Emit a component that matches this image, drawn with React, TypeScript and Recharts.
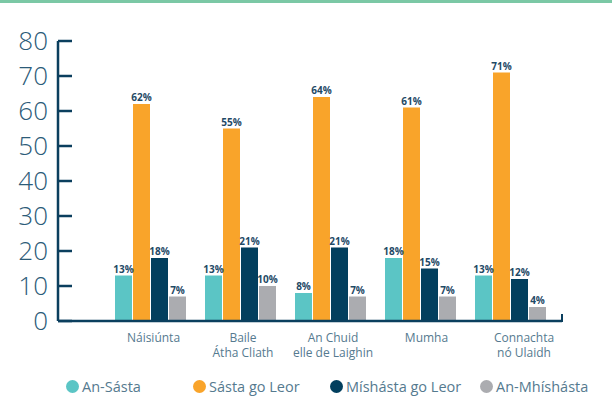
import React from 'react';
import * as R from 'recharts';
const { BarChart, Bar, XAxis, YAxis, Legend, LabelList } = R as any;

const categories = ['Náisiúnta', 'Baile\nÁtha Cliath', 'An Chuid\nelle de Laighin', 'Mumha', 'Connachta\nnó Ulaidh'];
const seriesNames = ['An-Sásta', 'Sásta go Leor', 'Míshásta go Leor', 'An-Mhíshásta'];
const anSasta = [13, 13, 8, 18, 13];
const sastaGoLeor = [62, 55, 64, 61, 71];
const mishastaGoLeor = [18, 21, 21, 15, 12];
const anMhishasta = [7, 10, 7, 7, 4];
const yTicks = [0, 10, 20, 30, 40, 50, 60, 70, 80];

const data = categories.map((name, i) => ({
  name,
  anSasta: anSasta[i],
  sastaGoLeor: sastaGoLeor[i],
  mishastaGoLeor: mishastaGoLeor[i],
  anMhishasta: anMhishasta[i],
}));

const AXIS = '#0b3f5e';
const TEXT = '#557a8f';
const FONT = '"Open Sans", sans-serif';
const X_OFFSETS = [3.5, 3, 3, 6.5, 14];
const LEGEND_LEFTS = [66, 193, 330, 480];

function YTick(props: any) {
  const { x, y, payload } = props;
  return (
    <g>
      <text x={x} y={y} dy="0.36em" textAnchor="end" fontSize={26} fontFamily={FONT} fontWeight={300} fill="#2c5b78">
        {payload.value}
      </text>
      <line x1={x + 10} x2={x + 24} y1={y} y2={y} stroke={AXIS} strokeWidth={2.5} />
    </g>
  );
}

function XTick(props: any) {
  const { x, y, payload, index } = props;
  const lines = String(payload.value).split('\n');
  const dx = X_OFFSETS[index] || 0;
  return (
    <g>
      {lines.map((l, i) => (
        <text key={i} x={x + dx} y={y + 21 + i * 15} textAnchor="middle" fontSize={12} fontFamily={FONT} fill={TEXT}>{l}</text>
      ))}
    </g>
  );
}

function LegendContent(props: any) {
  const payload = (props.payload || []).slice();
  payload.sort((a: any, b: any) => seriesNames.indexOf(a.value) - seriesNames.indexOf(b.value));
  return (
    <div style={{ position: 'relative', width: 612, height: 20 }}>
      {payload.map((p: any, i: number) => (
        <div key={i} style={{ position: 'absolute', left: LEGEND_LEFTS[i], top: 0, height: 20, display: 'flex', alignItems: 'center', whiteSpace: 'nowrap' }}>
          <span style={{ width: 13, height: 13, borderRadius: '50%', background: p.color, display: 'inline-block', marginRight: 3 }} />
          <span style={{ fontSize: 14.5, fontFamily: FONT, color: TEXT }}>{p.value}</span>
        </div>
      ))}
    </div>
  );
}

const usePA: any = (R as any).usePlotArea;
function EndTick() {
  const pa = usePA ? usePA() : null;
  if (!pa) return null;
  const xe = pa.x + pa.width;
  const yb = pa.y + pa.height;
  return <line x1={xe} x2={xe} y1={yb - 7} y2={yb + 1} stroke={AXIS} strokeWidth={2} />;
}

const labelStyle = { fontSize: 10, fontWeight: 700, fontFamily: FONT, fill: '#1f4a66' };
const fmt = (v: any) => `${v}%`;

export default function App() {
  return (
    <div style={{ position: 'absolute', top: 0, left: 0, width: 612, height: 405, background: '#fff', overflow: 'hidden' }}>
      <div style={{ position: 'absolute', top: 0, left: 0, width: 612, height: 3, background: '#7bc8a5' }} />
      <BarChart width={612} height={405} data={data} margin={{ top: 41, right: 50, left: 0, bottom: 20 }} barSize={17} barGap={1}>
        <XAxis
          dataKey="name"
          height={44}
          padding={{ left: 47, right: 7 }}
          axisLine={{ stroke: AXIS, strokeWidth: 2.5 }}
          tickLine={false}
          tickSize={0}
          tickMargin={0}
          interval={0}
          tick={<XTick />}
        />
        <YAxis
          width={58}
          domain={[0, 80]}
          ticks={yTicks}
          interval={0}
          axisLine={{ stroke: AXIS, strokeWidth: 2.5 }}
          tickLine={false}
          tickSize={0}
          tickMargin={10}
          tick={<YTick />}
        />
        <Legend
          verticalAlign="bottom"
          itemSorter={null}
          content={<LegendContent />}
          wrapperStyle={{ position: 'absolute', left: 0, top: 376, width: 612, height: 20 }}
        />
        <Bar dataKey="anSasta" name={seriesNames[0]} fill="#5bc5c5" isAnimationActive={false}>
          <LabelList dataKey="anSasta" position="top" offset={3} formatter={fmt} style={labelStyle} />
        </Bar>
        <Bar dataKey="sastaGoLeor" name={seriesNames[1]} fill="#f9a42a" isAnimationActive={false}>
          <LabelList dataKey="sastaGoLeor" position="top" offset={3} formatter={fmt} style={labelStyle} />
        </Bar>
        <Bar dataKey="mishastaGoLeor" name={seriesNames[2]} fill="#023f5e" isAnimationActive={false}>
          <LabelList dataKey="mishastaGoLeor" position="top" offset={3} formatter={fmt} style={labelStyle} />
        </Bar>
        <Bar dataKey="anMhishasta" name={seriesNames[3]} fill="#abacb0" isAnimationActive={false}>
          <LabelList dataKey="anMhishasta" position="top" offset={3} formatter={fmt} style={labelStyle} />
        </Bar>
        <EndTick />
      </BarChart>
    </div>
  );
}
